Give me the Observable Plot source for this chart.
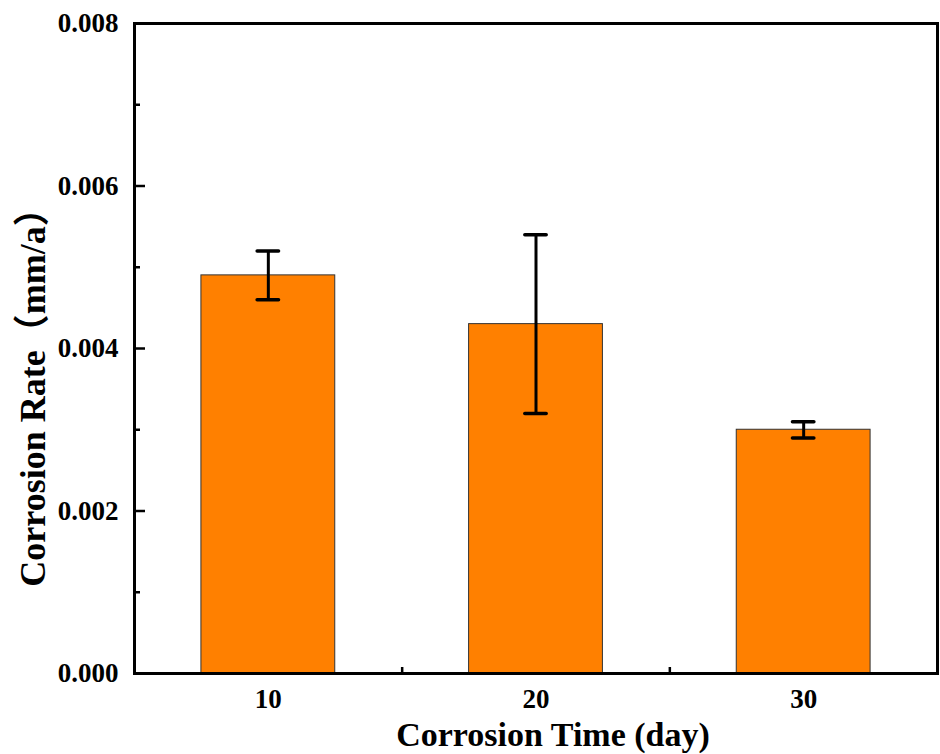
<!DOCTYPE html>
<html><head><meta charset="utf-8">
<script src="https://cdn.jsdelivr.net/npm/d3@7"></script>
<script src="https://cdn.jsdelivr.net/npm/@observablehq/plot@0.6"></script>
<style>
body{margin:0;background:#fff;}
svg{font-family:"Liberation Serif","Times New Roman","Noto Sans CJK SC",serif;font-weight:bold;}
</style></head>
<body><div id="chart"></div>
<script>
const times = [10, 20, 30];
const rates = [0.0049, 0.0043, 0.0030];
const errLow = [0.0046, 0.0032, 0.0029];
const errHigh = [0.0052, 0.0054, 0.0031];
const yTicks = [0, 0.002, 0.004, 0.006, 0.008];
const yMinor = [0.001, 0.003, 0.005, 0.007];
const xMinor = [15, 25];
const barHalfWidth = 2.5;
const capHalfWidth = 0.4;

const data = times.map((t, i) => ({t, rate: rates[i], lo: errLow[i], hi: errHigh[i]}));
const blank = () => "";

const chart = Plot.plot({
  width: 940, height: 754,
  marginLeft: 134, marginRight: 3, marginTop: 23, marginBottom: 81,
  style: {fontFamily: '"Liberation Serif","Times New Roman","Noto Sans CJK SC",serif', fontWeight: "bold", background: "#fff"},
  x: {type: "linear", domain: [5, 35]},
  y: {type: "linear", domain: [0, 0.008]},
  marks: [
    Plot.axisY(yTicks, {tickSize: -11, strokeWidth: 2.5, tickFormat: d => d.toFixed(3), fontSize: 27, tickPadding: 27, label: null, fill: "#000"}),
    Plot.axisY(yMinor, {tickSize: -6, strokeWidth: 2.5, tickFormat: blank, label: null}),
    Plot.axisX(times, {tickSize: -11, strokeWidth: 2.5, tickFormat: d => String(d), fontSize: 27, tickPadding: 26, label: null, fill: "#000"}),
    Plot.axisX(xMinor, {tickSize: -6, strokeWidth: 2.5, tickFormat: blank, label: null}),
    Plot.rectY(data, {x1: d => d.t - barHalfWidth, x2: d => d.t + barHalfWidth, y1: 0, y2: "rate", fill: "#FF8000", stroke: "#333", strokeWidth: 1}),
    Plot.ruleX(data, {x: "t", y1: "lo", y2: "hi", stroke: "#000", strokeWidth: 3}),
    Plot.ruleY(data, {y: "lo", x1: d => d.t - capHalfWidth, x2: d => d.t + capHalfWidth, stroke: "#000", strokeWidth: 3.5, strokeLinecap: "round"}),
    Plot.ruleY(data, {y: "hi", x1: d => d.t - capHalfWidth, x2: d => d.t + capHalfWidth, stroke: "#000", strokeWidth: 3.5, strokeLinecap: "round"}),
    Plot.frame({stroke: "#000", strokeWidth: 3}),
    Plot.text(["Corrosion Time (day)"], {frameAnchor: "bottom", lineAnchor: "middle", dx: 17, dy: 62, fontSize: 34, fill: "#000"}),
    Plot.text(["Corrosion Rate（mm/a）"], {frameAnchor: "left", textAnchor: "middle", dx: -101, dy: 40, rotate: -90, fontSize: 36, fill: "#000"})
  ]
});
document.getElementById("chart").appendChild(chart);
</script>
</body></html>
